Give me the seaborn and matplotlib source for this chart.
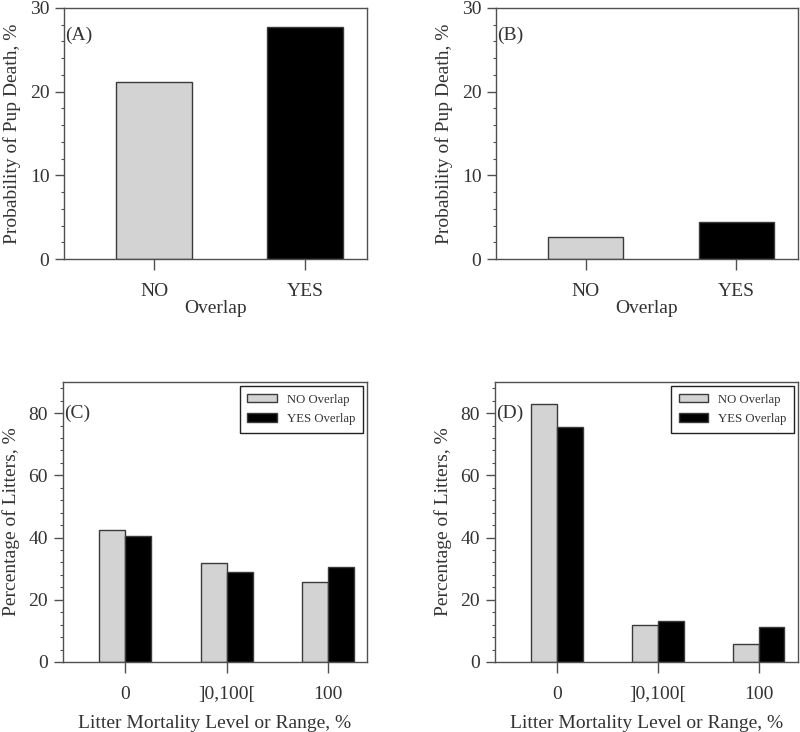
import matplotlib
matplotlib.use("Agg")
import matplotlib.pyplot as plt
import seaborn as sns
import pandas as pd
from matplotlib.ticker import MultipleLocator

sns.set_theme(style="white")
plt.rcParams['font.family'] = ['Liberation Serif', 'DejaVu Serif']

# ---- data ----
overlap_cats = ["NO", "YES"]
pup_death_A = [21.2, 27.7]
pup_death_B = [2.6, 4.4]

mortality_cats = ["0", "]0,100[", "100"]
series_names = ["NO Overlap", "YES Overlap"]
litters_C_no = [42.4, 31.9, 25.8]
litters_C_yes = [40.6, 28.9, 30.6]
litters_D_no = [82.9, 11.8, 5.7]
litters_D_yes = [75.4, 13.2, 11.4]

GRAY = "#d3d3d3"
BLACK = "#000000"
EDGE = "#3a3a3a"
TXT = "#333333"
SPINE = "#505050"

fig = plt.figure(figsize=(8.0, 7.32), dpi=100)

def style_axes(ax, ymax, major, minor, xlim):
    ax.set_ylim(0, ymax)
    ax.set_xlim(*xlim)
    ax.yaxis.set_major_locator(MultipleLocator(major))
    ax.yaxis.set_minor_locator(MultipleLocator(minor))
    for s in ax.spines.values():
        s.set_color(SPINE)
        s.set_linewidth(1.0)
        s.set_visible(True)
    ax.tick_params(axis='y', which='major', direction='out', length=6.5, width=1.0,
                   color=SPINE, labelsize=14, labelcolor=TXT, pad=4, left=True)
    ax.tick_params(axis='y', which='minor', direction='out', length=2, width=0.8,
                   color=SPINE, left=True)
    ax.tick_params(axis='x', which='major', direction='out', length=8, width=1.0,
                   color=SPINE, labelsize=14, labelcolor=TXT, pad=9, bottom=True)
    ax.tick_params(axis='x', which='minor', bottom=False)

# ---- top panels ----
top_specs = [
    ([64/800, (732-259)/732, 303/800, 251/732], pup_death_A, "(A)", (-0.596, 1.41)),
    ([496/800, (732-259)/732, 302/800, 251/732], pup_death_B, "(B)", (-0.596, 1.41)),
]
for rect, vals, lab, xl in top_specs:
    ax = fig.add_axes(rect)
    df = pd.DataFrame({"Overlap": overlap_cats, "val": vals})
    sns.barplot(data=df, x="Overlap", y="val", hue="Overlap",
                palette=[GRAY, BLACK], width=0.5, edgecolor=EDGE, linewidth=1.0,
                legend=False, ax=ax, zorder=2)
    style_axes(ax, 30, 10, 2, xl)
    ax.set_xlabel("Overlap", fontsize=14, color=TXT, labelpad=0)
    ax.set_ylabel("Probability of Pup Death, %", fontsize=14, color=TXT, labelpad=6)
    ax.text(0.004, 0.892, lab, transform=ax.transAxes, fontsize=14, color=TXT,
            ha='left', va='center')

# ---- bottom panels ----
bot_specs = [
    ([62.7/800, (732-662)/732, 304/800, 280/732], litters_C_no, litters_C_yes, "(C)", (-0.617, 2.38)),
    ([494.7/800, (732-662)/732, 303.3/800, 280/732], litters_D_no, litters_D_yes, "(D)", (-0.617, 2.39)),
]
for rect, vno, vyes, lab, xl in bot_specs:
    ax = fig.add_axes(rect)
    df = pd.DataFrame({
        "Mortality": mortality_cats * 2,
        "Series": [series_names[0]] * 3 + [series_names[1]] * 3,
        "val": list(vno) + list(vyes),
    })
    sns.barplot(data=df, x="Mortality", y="val", hue="Series",
                palette=[GRAY, BLACK], width=0.51, edgecolor=EDGE, linewidth=1.0,
                ax=ax, zorder=2)
    style_axes(ax, 90, 20, 4, xl)
    ax.set_xlabel("Litter Mortality Level or Range, %", fontsize=14, color=TXT, labelpad=9)
    ax.set_ylabel("Percentage of Litters, %", fontsize=14, color=TXT, labelpad=6)
    ax.text(0.004, 0.889, lab, transform=ax.transAxes, fontsize=14, color=TXT,
            ha='left', va='center')
    leg = ax.legend(loc='upper right', bbox_to_anchor=(1.0, 1.0), fontsize=9.2,
                    frameon=True, fancybox=False, handlelength=2.3, handleheight=0.65,
                    borderaxespad=0.3, borderpad=0.6, labelspacing=0.6,
                    handletextpad=0.8)
    fr = leg.get_frame()
    fr.set_edgecolor("#222222")
    fr.set_linewidth(1.0)
    fr.set_alpha(1)
    for t in leg.get_texts():
        t.set_color(TXT)

fig.savefig("out.png", dpi=100)
